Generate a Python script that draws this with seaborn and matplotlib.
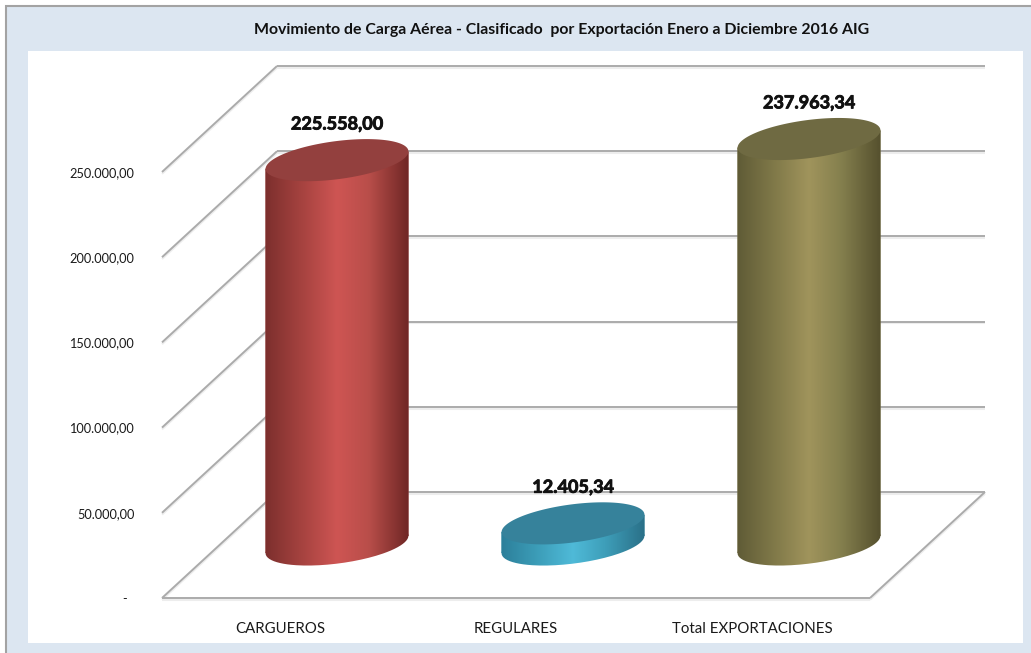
import numpy as np
import matplotlib
matplotlib.use("Agg")
import matplotlib.pyplot as plt
import matplotlib.patheffects as pe
from matplotlib.colors import LinearSegmentedColormap
from matplotlib.patches import Rectangle
from matplotlib.path import Path
from matplotlib.transforms import Affine2D
import seaborn as sns

categorias = ["CARGUEROS", "REGULARES", "Total EXPORTACIONES"]
valores = [225558.00, 12405.34, 237963.34]
etiquetas = ["225.558,00", "12.405,34", "237.963,34"]
ticks_y = [0, 50000, 100000, 150000, 200000, 250000]
ticks_lab = ["-  ", "50.000,00", "100.000,00", "150.000,00", "200.000,00", "250.000,00"]
titulo = "Movimiento de Carga Aérea - Clasificado  por Exportación Enero a Diciembre 2016 AIG"

colores_base = ["#C0504D", "#4BACC6", "#948A54"]
colores_tapa = ["#93403E", "#36829B", "#6F6A42"]
gradientes = [
    ["#7C2F2D", "#A5423F", "#CE5553", "#B94E4A", "#6F2625"],
    ["#2C7F9A", "#3C9DB8", "#4FBAD8", "#3E9FBA", "#2A7088"],
    ["#5F5B36", "#7F7848", "#A0945C", "#85804E", "#55502E"],
]

W, H = 1031, 653

sns.set_theme(style="white")
plt.rcParams["font.family"] = ["Lato", "DejaVu Sans"]

fig = plt.figure(figsize=(W / 100, H / 100), dpi=100, facecolor="white")

# fondo del grafico
fig.add_artist(Rectangle((5.5 / W, 0 - 0.1), 1.1, 1.1 - 5.5 / H, transform=fig.transFigure,
                         facecolor="#DCE6F1", edgecolor="#A3A3A3", linewidth=1.5, zorder=-2))
fig.add_artist(Rectangle((28 / W, 1 - 643 / H), (1023 - 28) / W, (643 - 51) / H,
                         transform=fig.transFigure, facecolor="white", edgecolor="none", zorder=-1))
fig.text(562 / W, 1 - 30 / H, titulo, ha="center", va="center", fontsize=11.4, fontweight="bold",
         color="#111111")

# el plano frontal del suelo es el eje
ax = fig.add_axes([162 / W, 1 - 598 / H, (870 - 162) / W, (598 - 172) / H])
ax.patch.set_visible(False)

sns.barplot(x=categorias, y=valores, hue=categorias, palette=colores_base, width=0.606,
            legend=False, linewidth=0, ax=ax, zorder=3)

ax.set_xlim(-0.5, 2.5)
ax.set_ylim(0, 250000)
sns.despine(ax=ax, left=True, bottom=True)
ax.set_yticks(ticks_y, ticks_lab)
ax.tick_params(axis="y", length=0, pad=20, labelsize=9.2, labelcolor="#1a1a1a")
ax.tick_params(axis="x", length=0, pad=17, labelsize=10.8, labelcolor="#1a1a1a")

# pixeles a unidades de datos
px_x = 3 / (870 - 162)
px_y = 250000 / (598 - 172)

fondo_dx, fondo_dy = 115 * px_x, 106 * px_y
medio_dx, medio_dy = 57 * px_x, 53.5 * px_y


def linea(xs, ys):
    ax.plot(xs, np.array(ys) - 1.8 * px_y, color="#EDEDED", lw=1.5, clip_on=False, zorder=1,
            solid_capstyle="butt")
    ax.plot(xs, ys, color="#ABABAB", lw=1.4, clip_on=False, zorder=2, solid_capstyle="butt")


for v in ticks_y:
    linea([-0.5, -0.5 + fondo_dx], [v, v + fondo_dy])
    linea([-0.5 + fondo_dx, 2.5 + fondo_dx], [v + fondo_dy, v + fondo_dy])
linea([-0.5, 2.5], [0, 0])
linea([2.5, 2.5 + fondo_dx], [0, fondo_dy])


def elipse(cx, cy):
    # elipse inclinada, se calcula en pixeles y pasa a datos
    a, b, th = 72, 19, np.radians(7.5)
    t = np.linspace(0, 2 * np.pi, 160)
    x = a * np.cos(t) * np.cos(th) - b * np.sin(t) * np.sin(th)
    y = a * np.cos(t) * np.sin(th) + b * np.sin(t) * np.cos(th)
    return np.column_stack([cx + x * px_x, cy + y * px_y])


barras = sorted(ax.patches, key=lambda p: p.get_x())
for i, barra in enumerate(barras):
    x0 = barra.get_x()
    ancho = barra.get_width()
    cx = x0 + ancho / 2 + medio_dx
    base = medio_dy
    alto = barra.get_height()
    incl = 0.12 * px_y / px_x

    # cuerpo: la barra se desplaza al plano medio y se inclina como la elipse
    m = np.array([[1, 0, medio_dx], [incl, 1, base - incl * (x0 + ancho / 2)], [0, 0, 1]])
    barra.set_transform(Affine2D(m) + ax.transData)
    barra.set_clip_on(False)

    cmap = LinearSegmentedColormap.from_list(
        f"cil{i}", list(zip([0, 0.25, 0.5, 0.72, 1], gradientes[i])))
    tramo = np.linspace(0, 1, 256).reshape(1, -1)
    extent = [cx - ancho / 2, cx + ancho / 2, base - 40 * px_y, base + alto + 40 * px_y]

    im = ax.imshow(tramo, extent=extent, aspect="auto", cmap=cmap, zorder=4)
    im.set_clip_box(fig.bbox)
    im.set_clip_path(barra.get_path(), barra.get_transform())

    im2 = ax.imshow(tramo, extent=extent, aspect="auto", cmap=cmap, zorder=4)
    im2.set_clip_box(fig.bbox)
    im2.set_clip_path(Path(elipse(cx, base)), ax.transData)

    tapa = elipse(cx, base + alto)
    ax.fill(tapa[:, 0], tapa[:, 1], color=colores_tapa[i], lw=0, zorder=5, clip_on=False)

    ax.annotate(etiquetas[i], (cx, base + alto), xytext=(0, 26), textcoords="offset points",
                ha="center", va="center", fontsize=13, fontweight="bold", color="#111111",
                zorder=6, annotation_clip=False,
                path_effects=[pe.withStroke(linewidth=0.6, foreground="#111111")])

ax.set_xlim(-0.5, 2.5)
ax.set_ylim(0, 250000)

fig.savefig("out.png", dpi=100, facecolor=fig.get_facecolor())
